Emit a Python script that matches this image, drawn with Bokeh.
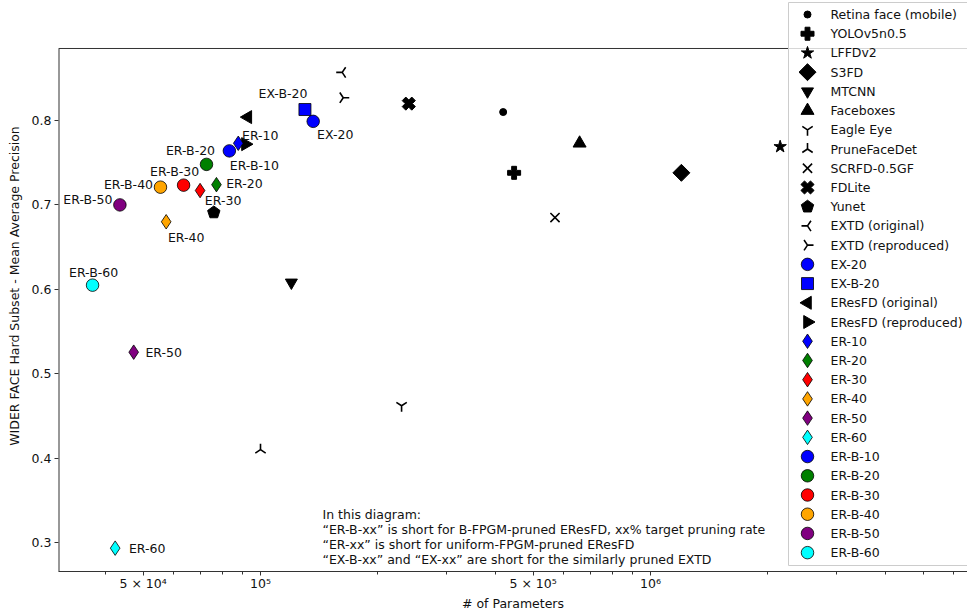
import math
from bokeh.plotting import figure
from bokeh.models import FixedTicker, ColumnDataSource
from bokeh.core.properties import value
from bokeh.embed import file_html
from bokeh.resources import INLINE

# ---------------- data ----------------
base_names = ["Retina face (mobile)", "YOLOv5n0.5", "LFFDv2", "S3FD", "MTCNN",
              "Faceboxes", "Eagle Eye", "PruneFaceDet", "SCRFD-0.5GF", "FDLite",
              "Yunet", "EXTD (original)", "EXTD (reproduced)"]
base_params = [4.19e5, 4.47e5, 2.15e6, 1.2e6, 1.2e5, 6.58e5, 2.30e5, 1.0e5,
               5.69e5, 2.40e5, 7.59e4, 1.62e5, 1.63e5]
base_ap = [0.810, 0.738, 0.769, 0.738, 0.608, 0.773, 0.462, 0.410,
           0.685, 0.820, 0.691, 0.857, 0.827]

ex_names = ["EX-20", "EX-B-20"]
ex_params = [1.365e5, 1.30e5]
ex_ap = [0.799, 0.813]

eresfd_names = ["EResFD (original)", "EResFD (reproduced)"]
eresfd_params = [9.28e4, 9.15e4]
eresfd_ap = [0.804, 0.772]

er_names = ["ER-10", "ER-20", "ER-30", "ER-40", "ER-50", "ER-60"]
er_params = [8.77e4, 7.71e4, 7.00e4, 5.73e4, 4.73e4, 4.24e4]
er_ap = [0.773, 0.724, 0.717, 0.680, 0.5255, 0.2933]

erb_names = ["ER-B-10", "ER-B-20", "ER-B-30", "ER-B-40", "ER-B-50", "ER-B-60"]
erb_params = [8.32e4, 7.27e4, 6.35e4, 5.54e4, 4.36e4, 3.71e4]
erb_ap = [0.764, 0.748, 0.7234, 0.721, 0.700, 0.6049]

pruned_colors = ["blue", "green", "red", "orange", "purple", "cyan"]

x_major = [50000, 100000, 500000, 1000000]
x_major_labels = ["5 × 10⁴", "10⁵", "5 × 10⁵", "10⁶"]
x_minor = [40000, 60000, 70000, 80000, 90000,
           200000, 300000, 400000, 600000, 700000, 800000, 900000,
           2000000, 3000000, 4000000, 5000000, 6000000]
y_ticks = [0.3, 0.4, 0.5, 0.6, 0.7, 0.8]

note_lines = ["In this diagram:",
              "\u201cER-B-xx\u201d is short for B-FPGM-pruned EResFD, xx% target pruning rate",
              "\u201cER-xx\u201d is short for uniform-FPGM-pruned EResFD",
              "\u201cEX-B-xx\u201d and \u201cEX-xx\u201d are short for the similarly pruned EXTD"]

# ---------------- styles ----------------
FONT = "DejaVu Sans"
FS = "12.5px"
AX = "#333333"
TXT = "#111111"
PENT_ANGLE = 0.0

base_styles = [
    dict(marker="circle", size=7),
    dict(marker="plus", size=13),
    dict(marker="star", size=13),
    dict(marker="square", size=12, angle=math.pi / 4),
    dict(marker="inverted_triangle", size=12),
    dict(marker="triangle", size=13),
    dict(marker="y", size=12, line=True),
    dict(marker="y", size=12, angle=math.pi, line=True),
    dict(marker="x", size=13, line=True),
    dict(marker="plus", size=13.5, angle=math.pi / 4),
    dict(marker="pentagon", size=12),
    dict(marker="y", size=12, angle=-math.pi / 2, line=True),
    dict(marker="y", size=12, angle=math.pi / 2, line=True),
]
ex_styles = [dict(marker="circle", size=12.5, color="blue", edge=True),
             dict(marker="square", size=12, color="blue", edge=True)]
eresfd_styles = [dict(marker="triangle", size=13, angle=math.pi / 2),
                 dict(marker="triangle", size=13, angle=-math.pi / 2)]
er_styles = [dict(marker="diamond", size=14.5, color=c, edge=True) for c in pruned_colors]
erb_styles = [dict(marker="circle", size=12.5, color=c, edge=True) for c in pruned_colors]

# label offsets in screen pixels (dx right, dy down)
label_offsets = {
    "EX-20": (22, 13), "EX-B-20": (-22, -16),
    "ER-10": (22, -8), "ER-20": (28, -1), "ER-30": (23, 10), "ER-40": (20, 16),
    "ER-50": (30, 0), "ER-60": (32, 0),
    "ER-B-10": (25, 15), "ER-B-20": (-16, -14), "ER-B-30": (-9, -14),
    "ER-B-40": (-32, -3), "ER-B-50": (-32, -5), "ER-B-60": (1, -13),
}

# ---------------- layout ----------------
W, H = 967, 615
FL, FT, FB = 58, 0, 571          # frame left / top / bottom (page px)
FR = W
LX0, LX1 = 4.48205, 6.81282      # log10 x-range ends
Y0, YTOP = 0.26564, 0.94218      # y at frame bottom / frame top
Y_SPINE = 0.88531                # top of the matplotlib-style axes box
LEG_ROW0, LEG_STEP = 14, 19.22


def px(xp, yp):
    """page pixel -> data coordinates"""
    x = 10 ** (LX0 + (xp - FL) / (FR - FL) * (LX1 - LX0))
    y = YTOP - (yp - FT) / (FB - FT) * (YTOP - Y0)
    return x, y


p = figure(width=W, height=H, x_axis_type="log",
           x_range=(10 ** LX0, 10 ** LX1), y_range=(Y0, YTOP),
           output_backend="svg", toolbar_location=None,
           min_border_left=FL, min_border_right=0,
           min_border_top=FT, min_border_bottom=H - FB)
p.outline_line_color = None
p.xgrid.visible = False
p.ygrid.visible = False
p.background_fill_color = "white"
p.border_fill_color = "white"


def draw(xs, ys, st):
    size = st["size"]
    ang = st.get("angle", 0.0)
    if st["marker"] == "pentagon":
        try:
            return p.ngon(x=xs, y=ys, radius=size / 2 + 0.5, radius_units="screen",
                          n=5, angle=PENT_ANGLE, fill_color="black",
                          line_color="black")
        except Exception:
            return p.scatter(x=xs, y=ys, marker="hex", size=size,
                             fill_color="black", line_color="black")
    if st.get("line"):
        return p.scatter(x=xs, y=ys, marker=st["marker"], size=size, angle=ang,
                         line_color="black", line_width=1.6, fill_color=None)
    if st.get("edge"):
        return p.scatter(x=xs, y=ys, marker=st["marker"], size=size, angle=ang,
                         fill_color=st["color"], line_color="black", line_width=0.8)
    return p.scatter(x=xs, y=ys, marker=st["marker"], size=size, angle=ang,
                     fill_color="black", line_color="black")


all_names = base_names + ex_names + eresfd_names + er_names + erb_names
all_params = base_params + ex_params + eresfd_params + er_params + erb_params
all_ap = base_ap + ex_ap + eresfd_ap + er_ap + erb_ap
all_styles = base_styles + ex_styles + eresfd_styles + er_styles + erb_styles

# data points
for xv, yv, st in zip(all_params, all_ap, all_styles):
    draw([xv], [yv], st)

# point labels
lab_names = ex_names + er_names + erb_names
lab_x = ex_params + er_params + erb_params
lab_y = ex_ap + er_ap + erb_ap
src = ColumnDataSource(dict(
    x=lab_x, y=lab_y, text=lab_names,
    dx=[label_offsets[n][0] for n in lab_names],
    dy=[label_offsets[n][1] for n in lab_names]))
p.text(x="x", y="y", text="text", x_offset="dx", y_offset="dy", source=src,
       text_align="center", text_baseline="middle",
       text_font=value(FONT), text_font_size=value(FS), text_color=TXT)

# note text
note_x, note_y = [], []
for i in range(len(note_lines)):
    nx, ny = px(322, 514 + i * 15.1)
    note_x.append(nx)
    note_y.append(ny)
p.text(x=note_x, y=note_y, text=note_lines, text_align="left",
       text_baseline="middle", text_font=value(FONT), text_font_size=value(FS),
       text_color=TXT)

# axes box spines (left & top)
xl, _ = px(FL, 0)
xr, _ = px(FR + 20, 0)
p.segment(x0=[xl], y0=[Y0], x1=[xl], y1=[Y_SPINE], line_color=AX, line_width=2)
p.segment(x0=[xl], y0=[Y_SPINE], x1=[xr], y1=[Y_SPINE], line_color=AX, line_width=1)

# legend (framed box of glyphs + labels)
lx_left, ly_top = px(788, 2)
lx_right, ly_bot = px(1000, 565)
p.quad(left=[lx_left], right=[lx_right], top=[ly_top], bottom=[ly_bot],
       fill_color="white", fill_alpha=0.8, line_color="#cccccc", line_width=1)
leg_x, leg_ty = [], []
for k, (name, st) in enumerate(zip(all_names, all_styles)):
    gx, gy = px(807, LEG_ROW0 + LEG_STEP * k)
    tx, _ = px(830, 0)
    draw([gx], [gy], st)
    leg_x.append(tx)
    leg_ty.append(gy)
p.text(x=leg_x, y=leg_ty, text=all_names, text_align="left", text_baseline="middle",
       text_font=value(FONT), text_font_size=value(FS), text_color=TXT)

# axes
p.xaxis.ticker = FixedTicker(ticks=x_major, minor_ticks=x_minor)
p.xaxis.major_label_overrides = {k: v for k, v in zip(x_major, x_major_labels)}
p.yaxis.ticker = FixedTicker(ticks=y_ticks)
for ax in (p.xaxis[0], p.yaxis[0]):
    ax.axis_line_color = AX
    ax.axis_line_width = 1
    ax.major_tick_line_color = AX
    ax.minor_tick_line_color = AX
    ax.major_tick_in = 0
    ax.major_tick_out = 4
    ax.minor_tick_in = 0
    ax.minor_tick_out = 3
    ax.major_label_text_font = FONT
    ax.major_label_text_font_size = FS
    ax.major_label_text_color = TXT
    ax.axis_label_text_font = FONT
    ax.axis_label_text_font_size = FS
    ax.axis_label_text_font_style = "normal"
    ax.axis_label_text_color = TXT
p.yaxis.axis_line_color = None
p.yaxis.minor_tick_line_color = None
p.xaxis.major_label_standoff = 0
p.yaxis.major_label_standoff = 3
p.xaxis.axis_label = "# of Parameters"
p.yaxis.axis_label = "WIDER FACE Hard Subset - Mean Average Precision"
p.xaxis.axis_label_standoff = 2
p.yaxis.axis_label_standoff = 7

open("out.html", "w").write(file_html(p, INLINE))
